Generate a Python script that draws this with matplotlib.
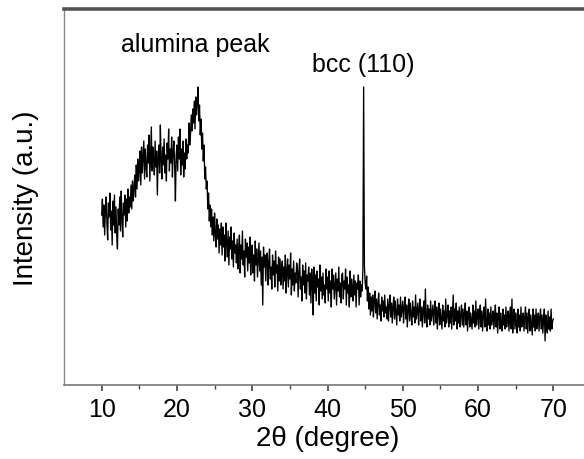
import numpy as np
import matplotlib
matplotlib.use('agg')
import matplotlib.pyplot as plt

plt.rcParams['font.family'] = ['Liberation Sans', 'DejaVu Sans']

# scan: 10-70 deg, 0.1 deg step
scan_start = 10.0
scan_step = 0.1

# intensity (a.u.), one row per 2 degrees
intensity = [
    170, 186, 158, 180, 150, 176, 188, 162, 145, 182, 168, 192, 155, 174, 140, 184, 160, 190, 152, 178,  # 10
    150, 136, 176, 160, 188, 154, 194, 166, 148, 182, 170, 190, 158, 186, 164, 196, 172, 188, 178, 200,  # 12
    176, 204, 184, 198, 210, 188, 220, 196, 226, 204, 214, 234, 200, 238, 212, 228, 244, 206, 236, 218,  # 14
    208, 240, 222, 250, 204, 232, 258, 214, 238, 226, 210, 244, 218, 234, 190, 228, 240, 212, 260, 224,  # 16
    206, 238, 220, 246, 212, 230, 204, 242, 226, 256, 214, 236, 222, 248, 208, 234, 244, 218, 184, 230,  # 18
    240, 214, 248, 226, 256, 210, 236, 220, 244, 208, 232, 216, 246, 226, 240, 232, 262, 240, 250, 270,  # 20
    254, 276, 262, 284, 256, 288, 270, 282, 298, 264, 280, 250, 266, 236, 252, 224, 240, 206, 218, 196,  # 22
    204, 176, 192, 164, 180, 158, 176, 150, 168, 144, 172, 152, 138, 166, 146, 160, 132, 156, 140, 162,  # 24
    130, 158, 138, 150, 124, 162, 142, 128, 154, 120, 148, 136, 158, 126, 144, 118, 152, 132, 140, 122,  # 26
    146, 116, 136, 150, 112, 140, 126, 154, 120, 134, 108, 146, 128, 142, 114, 138, 122, 148, 110, 132,  # 28
    140, 112, 130, 104, 144, 120, 136, 108, 126, 142, 114, 134, 100, 128, 80, 138, 118, 130, 104, 126,   # 30
    132, 100, 122, 136, 106, 118, 96, 130, 110, 124, 98, 134, 112, 120, 94, 128, 104, 126, 100, 118,     # 32
    124, 96, 118, 104, 130, 92, 114, 126, 98, 120, 106, 132, 90, 116, 100, 124, 94, 112, 102, 122,       # 34
    118, 88, 112, 126, 96, 108, 84, 120, 100, 114, 92, 122, 86, 110, 104, 118, 90, 112, 82, 116,         # 36
    102, 70, 118, 92, 110, 84, 114, 98, 106, 80, 120, 94, 108, 86, 112, 90, 100, 82, 116, 96,            # 38
    108, 84, 114, 92, 104, 78, 116, 96, 110, 86, 100, 112, 80, 106, 94, 118, 88, 102, 82, 110,           # 40
    112, 86, 104, 96, 116, 80, 108, 92, 100, 78, 114, 88, 106, 98, 84, 110, 90, 104, 78, 102,            # 42
    96, 110, 80, 104, 88, 100, 94, 115, 298, 120, 102, 96, 109, 84, 98, 76, 92, 70, 88, 74,              # 44
    90, 68, 84, 94, 72, 86, 66, 82, 92, 70, 80, 64, 88, 74, 84, 68, 90, 72, 78, 66,                      # 46
    86, 64, 80, 90, 68, 82, 62, 78, 88, 66, 84, 72, 60, 86, 70, 80, 64, 88, 68, 76,                      # 48
    84, 62, 78, 88, 66, 80, 58, 76, 86, 64, 82, 70, 60, 84, 68, 78, 62, 90, 66, 74,                      # 50
    82, 60, 76, 86, 64, 78, 58, 74, 84, 62, 96, 68, 58, 80, 66, 76, 60, 84, 64, 72,                      # 52
    80, 60, 74, 84, 62, 78, 56, 72, 82, 60, 76, 66, 56, 80, 64, 74, 58, 86, 62, 70,                      # 54
    80, 58, 74, 62, 78, 56, 72, 90, 60, 76, 64, 82, 56, 74, 62, 78, 58, 70, 80, 60,                      # 56
    76, 58, 72, 82, 60, 74, 54, 70, 78, 58, 72, 64, 56, 80, 62, 74, 58, 84, 60, 70,                      # 58
    76, 56, 72, 80, 58, 74, 54, 70, 78, 58, 86, 62, 54, 76, 60, 72, 56, 78, 60, 68,                      # 60
    74, 56, 70, 80, 58, 72, 52, 68, 78, 56, 72, 62, 54, 76, 60, 70, 56, 78, 58, 68,                      # 62
    74, 54, 70, 78, 56, 86, 52, 68, 76, 56, 72, 60, 52, 76, 58, 70, 54, 78, 58, 66,                      # 64
    72, 54, 68, 78, 56, 72, 52, 68, 76, 54, 70, 60, 50, 76, 58, 70, 54, 76, 56, 66,                      # 66
    72, 54, 68, 76, 56, 70, 52, 66, 76, 44, 70, 58, 52, 74, 56, 68, 54, 76, 56, 64,                      # 68
    66,                                                                                                  # 70
]

two_theta = scan_start + scan_step * np.arange(len(intensity))

major_ticks = [10, 20, 30, 40, 50, 60, 70]
minor_ticks = [15, 25, 35, 45, 55, 65]

peak_labels = ['alumina peak', 'bcc (110)']
peak_label_pos = [(22.5, 334), (44.7, 314)]

fig = plt.figure(figsize=(5.84, 4.6), dpi=100)
# the right edge of the frame falls just outside the picture
ax = fig.add_axes([64 / 584, 74 / 460, 527 / 584, 376 / 460])

ax.plot(two_theta, intensity, color='black', lw=0.95)

ax.set_xlim(5, 75)
ax.set_ylim(0, 376)
ax.set_xticks(major_ticks)
ax.set_xticks(minor_ticks, minor=True)
ax.set_yticks([])

ax.tick_params(axis='x', which='major', direction='out', length=4.5, width=1.2,
               color='#444444', labelsize=18, pad=4)
ax.tick_params(axis='x', which='minor', direction='out', length=3, width=1,
               color='#444444')

ax.spines['top'].set_linewidth(2.6)
ax.spines['top'].set_color('#555555')
ax.spines['left'].set_linewidth(1.0)
ax.spines['left'].set_color('#888888')
ax.spines['bottom'].set_linewidth(1.2)
ax.spines['bottom'].set_color('#777777')
ax.spines['right'].set_visible(False)

ax.set_xlabel('2θ (degree)', fontsize=20, labelpad=3)
ax.set_ylabel('Intensity (a.u.)', fontsize=20, labelpad=18)

for txt, (x, y) in zip(peak_labels, peak_label_pos):
    ax.text(x, y, txt, ha='center', va='baseline', fontsize=18)

fig.savefig('out.png', dpi=100)
plt.close(fig)
